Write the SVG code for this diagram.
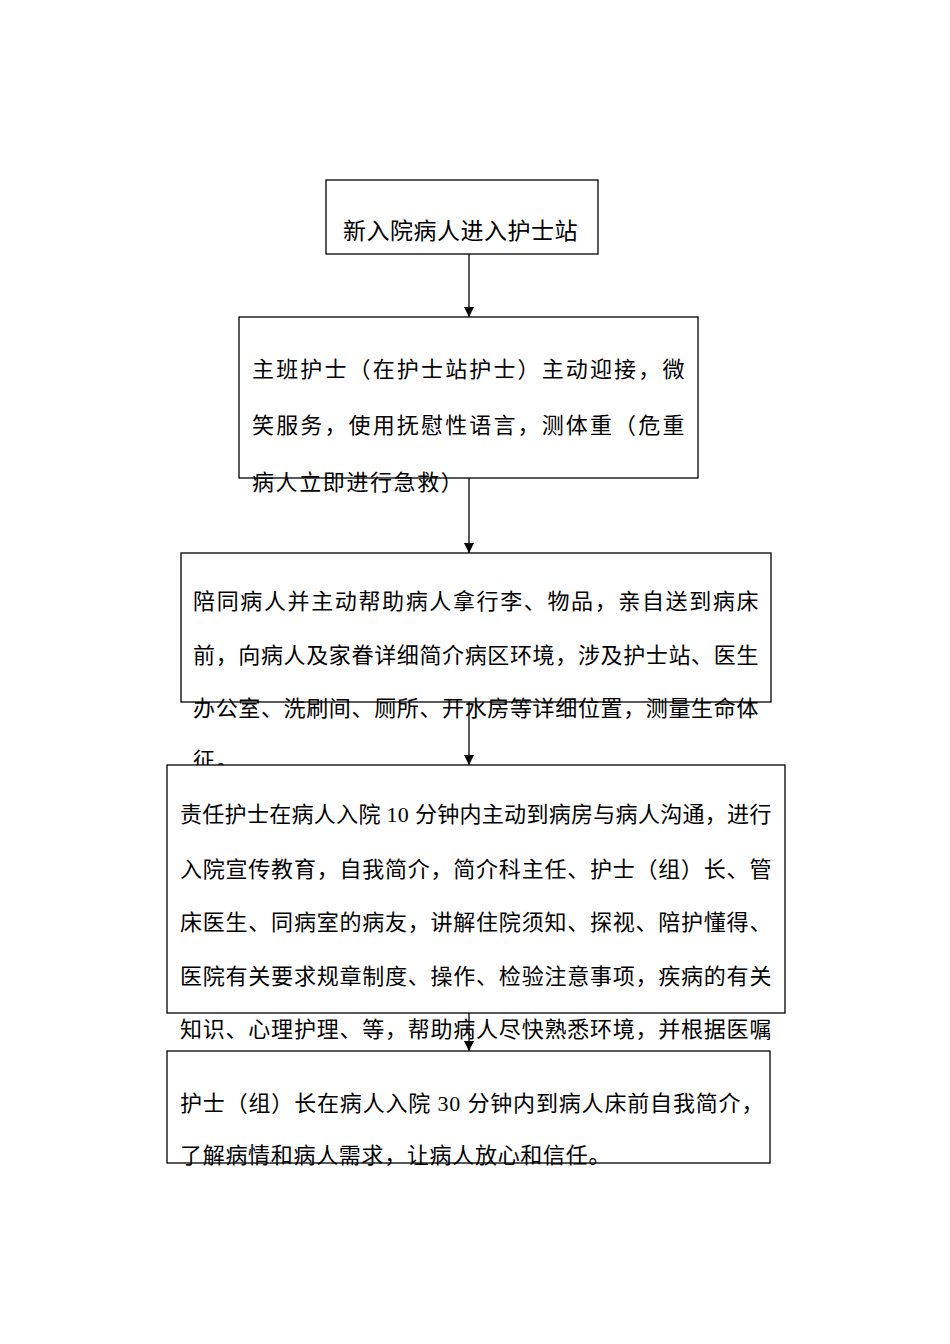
<svg xmlns="http://www.w3.org/2000/svg" width="950" height="1344" viewBox="0 0 950 1344">
<style>
.box{fill:#fff;stroke:#000;stroke-width:1.3}
.t{font-family:"Liberation Serif","Noto Sans CJK SC",serif;font-size:22px;fill:#000;letter-spacing:1.6px}
.t1{font-family:"Liberation Serif","Noto Sans CJK SC",serif;font-size:23px;fill:#000;letter-spacing:0.5px}
.c{stroke:#000;stroke-width:1.3;fill:none}
</style>
<defs>
<marker id="ah" markerWidth="10" markerHeight="10" refX="10" refY="5" orient="auto" markerUnits="userSpaceOnUse">
<path d="M0,0 L10,5 L0,10 z" fill="#000"/>
</marker>
</defs>
<rect width="950" height="1344" fill="#fff"/>
<g id="connectors">
<line class="c" x1="469" y1="254" x2="469" y2="317" marker-end="url(#ah)"/>
<line class="c" x1="469" y1="478" x2="469" y2="553" marker-end="url(#ah)"/>
<line class="c" x1="469" y1="702" x2="469" y2="765" marker-end="url(#ah)"/>
<line class="c" x1="469" y1="1013" x2="469" y2="1051" marker-end="url(#ah)"/>
</g>
<g id="n1">
<rect class="box" x="326" y="180" width="272" height="74"/>
<text class="t1" x="343" y="239" textLength="235" lengthAdjust="spacing">新入院病人进入护士站</text>
</g>
<g id="n2">
<rect class="box" x="239" y="317" width="459" height="161"/>
<text class="t" x="252" y="377" textLength="434" lengthAdjust="spacing">主班护士（在护士站护士）主动迎接，微</text>
<text class="t" x="252" y="433" textLength="434" lengthAdjust="spacing">笑服务，使用抚慰性语言，测体重（危重</text>
<text class="t" x="252" y="490">病人立即进行急救）</text>
</g>
<g id="n3">
<rect class="box" x="181" y="553" width="590" height="149"/>
<text class="t" x="193" y="609" textLength="567" lengthAdjust="spacing">陪同病人并主动帮助病人拿行李、物品，亲自送到病床</text>
<text class="t" x="193" y="663" textLength="567" lengthAdjust="spacing">前，向病人及家眷详细简介病区环境，涉及护士站、医生</text>
<text class="t" x="193" y="716" textLength="567" lengthAdjust="spacing">办公室、洗刷间、厕所、开水房等详细位置，测量生命体</text>
<text class="t" x="193" y="768">征。</text>
</g>
<g id="n4">
<rect class="box" x="167" y="765" width="618" height="248"/>
<text class="t" x="180" y="822" textLength="593" lengthAdjust="spacing">责任护士在病人入院 10 分钟内主动到病房与病人沟通，进行</text>
<text class="t" x="180" y="877" textLength="593" lengthAdjust="spacing">入院宣传教育，自我简介，简介科主任、护士（组）长、管</text>
<text class="t" x="180" y="930" textLength="593" lengthAdjust="spacing">床医生、同病室的病友，讲解住院须知、探视、陪护懂得、</text>
<text class="t" x="180" y="984" textLength="593" lengthAdjust="spacing">医院有关要求规章制度、操作、检验注意事项，疾病的有关</text>
<text class="t" x="180" y="1037" textLength="593" lengthAdjust="spacing">知识、心理护理、等，帮助病人尽快熟悉环境，并根据医嘱</text>
</g>
<g id="n5">
<rect class="box" x="167" y="1051" width="603" height="112"/>
<text class="t" x="180" y="1111" textLength="585" lengthAdjust="spacing">护士（组）长在病人入院 30 分钟内到病人床前自我简介，</text>
<text class="t" x="180" y="1163" textLength="432" lengthAdjust="spacing">了解病情和病人需求，让病人放心和信任。</text>
</g>
</svg>
